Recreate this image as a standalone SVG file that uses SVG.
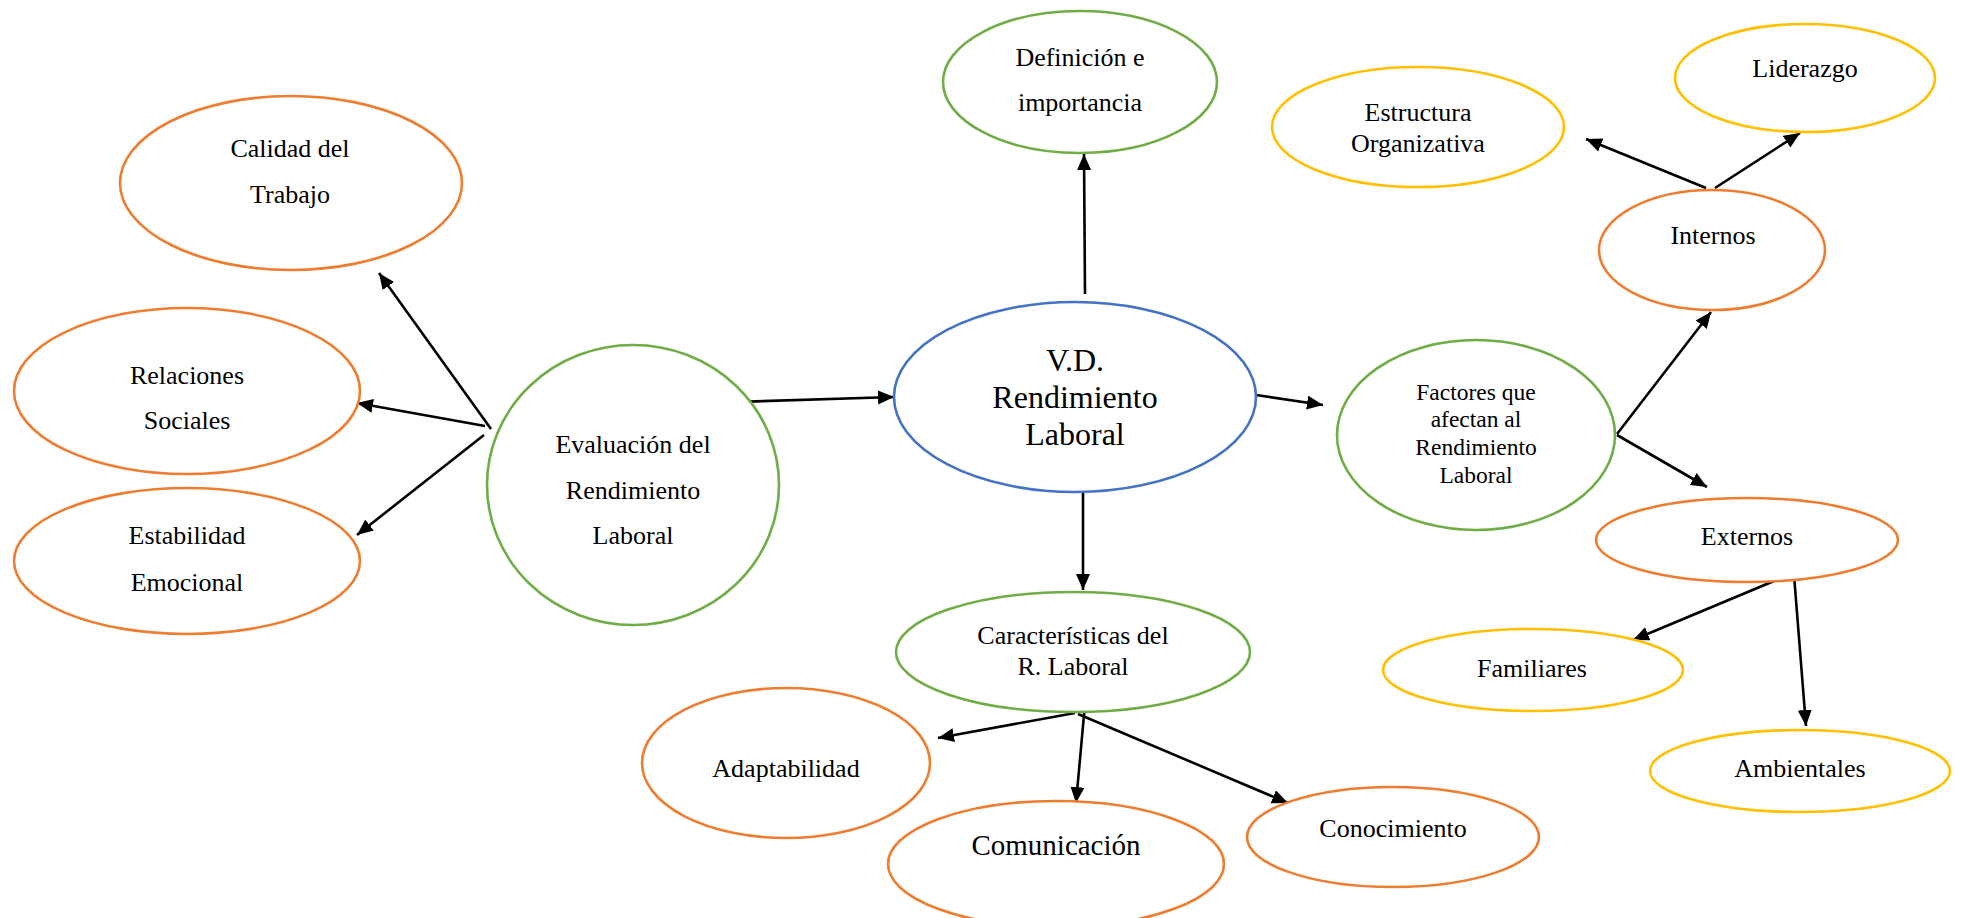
<svg xmlns="http://www.w3.org/2000/svg" width="1966" height="918" viewBox="0 0 1966 918">
  <style>
    .bg { fill: #ffffff; }
    ellipse { fill: #ffffff; stroke-width: 2.6; }
    .orange { stroke: #ED7D31; }
    .green { stroke: #70AD47; }
    .blue { stroke: #4472C4; }
    .gold { stroke: #FFC000; }
    text { font-family: "Liberation Serif", "Times New Roman", serif; font-size: 26px; fill: #000000; text-anchor: middle; }
    .big { font-size: 32px; }
    .mid { font-size: 29px; }
    .small { font-size: 23.5px; }
    .link { fill: none; stroke: #000000; stroke-width: 2.6; marker-end: url(#arrow); }
  </style>
  <defs>
    <marker id="arrow" markerUnits="userSpaceOnUse" markerWidth="18" markerHeight="16" refX="16" refY="7" orient="auto">
      <path d="M0,0 L16,7 L0,14 z" fill="#000000"/>
    </marker>
  </defs>

  <rect class="bg" x="0" y="0" width="1966" height="918"/>

  <!-- connectors -->
  <g id="connectors">
    <line class="link" x1="491" y1="429" x2="379" y2="273"/>
    <line class="link" x1="485" y1="426" x2="357" y2="403"/>
    <line class="link" x1="484" y1="435" x2="357" y2="535"/>
    <line class="link" x1="514" y1="409" x2="894" y2="397"/>
    <line class="link" x1="1085" y1="294" x2="1084" y2="154"/>
    <line class="link" x1="1083" y1="490" x2="1083" y2="590"/>
    <line class="link" x1="1256" y1="395" x2="1323" y2="405"/>
    <line class="link" x1="1617" y1="434" x2="1711" y2="312"/>
    <line class="link" x1="1617" y1="435" x2="1707" y2="487"/>
    <line class="link" x1="1706" y1="188" x2="1586" y2="139"/>
    <line class="link" x1="1715" y1="188" x2="1800" y2="133"/>
    <line class="link" x1="1786" y1="576" x2="1633" y2="640"/>
    <line class="link" x1="1794" y1="575" x2="1806" y2="726"/>
    <line class="link" x1="1075" y1="713" x2="938" y2="738"/>
    <line class="link" x1="1085" y1="704" x2="1076" y2="803"/>
    <line class="link" x1="1078" y1="714" x2="1288" y2="803"/>
  </g>

  <!-- left branch -->
  <g id="calidad">
    <ellipse class="orange" cx="291" cy="183" rx="171" ry="87"/>
    <text x="290" y="157">Calidad del</text>
    <text x="290" y="203">Trabajo</text>
  </g>
  <g id="relaciones">
    <ellipse class="orange" cx="187" cy="391" rx="173" ry="83"/>
    <text x="187" y="384">Relaciones</text>
    <text x="187" y="429">Sociales</text>
  </g>
  <g id="estabilidad">
    <ellipse class="orange" cx="187" cy="561" rx="173" ry="73"/>
    <text x="187" y="544">Estabilidad</text>
    <text x="187" y="591">Emocional</text>
  </g>
  <g id="evaluacion">
    <ellipse class="green" cx="633" cy="485" rx="146" ry="140"/>
    <text x="633" y="453">Evaluación del</text>
    <text x="633" y="499">Rendimiento</text>
    <text x="633" y="544">Laboral</text>
  </g>

  <!-- centre -->
  <g id="definicion">
    <ellipse class="green" cx="1080" cy="82" rx="137" ry="71"/>
    <text x="1080" y="66">Definición e</text>
    <text x="1080" y="111">importancia</text>
  </g>
  <g id="rendimiento">
    <ellipse class="blue" cx="1075" cy="397" rx="181" ry="95"/>
    <text class="big" x="1075" y="371">V.D.</text>
    <text class="big" x="1075" y="408">Rendimiento</text>
    <text class="big" x="1075" y="445">Laboral</text>
  </g>
  <g id="caracteristicas">
    <ellipse class="green" cx="1073" cy="652" rx="177" ry="60"/>
    <text x="1073" y="644">Características del</text>
    <text x="1073" y="675">R. Laboral</text>
  </g>
  <g id="adaptabilidad">
    <ellipse class="orange" cx="786" cy="763" rx="144" ry="75"/>
    <text x="786" y="777">Adaptabilidad</text>
  </g>
  <g id="comunicacion">
    <ellipse class="orange" cx="1056" cy="864" rx="168" ry="63"/>
    <text class="mid" x="1056" y="855">Comunicación</text>
  </g>
  <g id="conocimiento">
    <ellipse class="orange" cx="1393" cy="837" rx="146" ry="50"/>
    <text x="1393" y="837">Conocimiento</text>
  </g>

  <!-- right branch -->
  <g id="factores">
    <ellipse class="green" cx="1476" cy="435" rx="139" ry="95"/>
    <text class="small" x="1476" y="400">Factores que</text>
    <text class="small" x="1476" y="427">afectan al</text>
    <text class="small" x="1476" y="455">Rendimiento</text>
    <text class="small" x="1476" y="483">Laboral</text>
  </g>
  <g id="internos">
    <ellipse class="orange" cx="1712" cy="250" rx="113" ry="60"/>
    <text x="1713" y="244">Internos</text>
  </g>
  <g id="estructura">
    <ellipse class="gold" cx="1418" cy="127" rx="146" ry="60"/>
    <text x="1418" y="121">Estructura</text>
    <text x="1418" y="152">Organizativa</text>
  </g>
  <g id="liderazgo">
    <ellipse class="gold" cx="1805" cy="78" rx="130" ry="54"/>
    <text x="1805" y="77">Liderazgo</text>
  </g>
  <g id="externos">
    <ellipse class="orange" cx="1747" cy="540" rx="151" ry="42"/>
    <text x="1747" y="545">Externos</text>
  </g>
  <g id="familiares">
    <ellipse class="gold" cx="1533" cy="670" rx="150" ry="41"/>
    <text x="1532" y="677">Familiares</text>
  </g>
  <g id="ambientales">
    <ellipse class="gold" cx="1800" cy="771" rx="150" ry="41"/>
    <text x="1800" y="777">Ambientales</text>
  </g>
</svg>
